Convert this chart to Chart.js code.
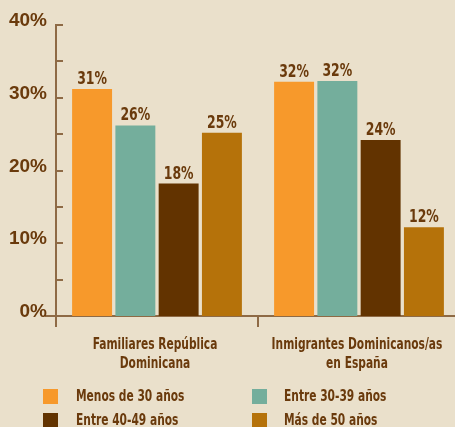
<!DOCTYPE html>
<html><head><meta charset="utf-8">
<script src="https://cdn.jsdelivr.net/npm/chart.js@4/dist/chart.umd.min.js"></script>
<style>
html,body{margin:0;padding:0;background:#EAE0CB;width:455px;height:427px;overflow:hidden;}
#wrap{position:absolute;left:0;top:0;width:460px;height:427px;}
.leg{position:absolute;font:bold 15px 'DejaVu Sans Condensed',sans-serif;color:#6A3A0C;white-space:nowrap;transform:scaleX(0.79);transform-origin:0 0;}
.sw{position:absolute;width:15px;height:15px;}
</style></head><body>
<div id="wrap"><canvas id="c" width="460" height="427"></canvas></div>
<div id="legend"></div>
<script>
const categories = [["Familiares República","Dominicana"],["Inmigrantes Dominicanos/as","en España"]];
const seriesNames = ["Menos de 30 años","Entre 30-39 años","Entre 40-49 años","Más de 50 años"];
const menos30 = [31.2, 32.2];
const entre30_39 = [26.2, 32.3];
const entre40_49 = [18.2, 24.2];
const mas50 = [25.2, 12.2];
const yTicks = [0, 10, 20, 30, 40];
const colors = ["#F7992B","#74AE9C","#623300","#B5720A"];
const textColor = "#6A3A0C";
const axisColor = "#8E6A45";
const narrow = "'DejaVu Sans Condensed',sans-serif";

const values = [menos30, entre30_39, entre40_49, mas50];

// HTML legend
const legend = document.getElementById('legend');
const legPos = [[43,389,76],[252,389,284],[43,413,76],[252,413,284]];
seriesNames.forEach((n,i)=>{
  const [sx,sy,tx]=legPos[i];
  const s=document.createElement('div');s.className='sw';s.style.left=sx+'px';s.style.top=sy+'px';s.style.background=colors[i];legend.appendChild(s);
  const t=document.createElement('div');t.className='leg';t.style.left=tx+'px';t.style.top=(sy-2)+'px';t.textContent=n;legend.appendChild(t);
});

function squeezed(ctx, text, x, y, sx){
  ctx.save(); ctx.translate(x,y); ctx.scale(sx,1); ctx.fillText(text,0,0); ctx.restore();
}

const decor = {
  id:'decor',
  afterDraw(chart){
    const ctx=chart.ctx, a=chart.chartArea, x=chart.scales.x, y=chart.scales.y;
    ctx.save();
    ctx.strokeStyle=axisColor; ctx.lineWidth=2;
    ctx.beginPath();
    ctx.moveTo(a.left, a.bottom); ctx.lineTo(a.left, a.bottom+11);
    ctx.moveTo(45, a.bottom); ctx.lineTo(a.left, a.bottom);
    const mid=(x.getPixelForValue(0)+x.getPixelForValue(1))/2;
    ctx.moveTo(mid, a.bottom); ctx.lineTo(mid, a.bottom+11);
    for(let v=5; v<=40; v+=5){
      const py=Math.round(y.getPixelForValue(v));
      ctx.moveTo(a.left, py); ctx.lineTo(a.left+7, py);
    }
    ctx.stroke();
    ctx.fillStyle=textColor;
    // y labels
    ctx.font="bold 19px 'Liberation Sans',Arial,sans-serif"; ctx.textAlign='right'; ctx.textBaseline='middle';
    yTicks.forEach(v=>{ ctx.fillText(v+'%', a.left-9, y.getPixelForValue(v)-4); });
    // x labels
    ctx.font="bold 15px "+narrow; ctx.textAlign='center'; ctx.textBaseline='alphabetic';
    categories.forEach((lines,i)=>{
      const cx=x.getPixelForValue(i)-2;
      lines.forEach((ln,j)=> squeezed(ctx, ln, cx, a.bottom+33+j*19, 0.79));
    });
    // data labels
    ctx.font="bold 18px "+narrow;
    chart.data.datasets.forEach((ds,di)=>{
      chart.getDatasetMeta(di).data.forEach((bar,i)=>{
        squeezed(ctx, Math.round(ds.data[i])+'%', bar.x, bar.y-5, 0.77);
      });
    });
    ctx.restore();
  }
};

new Chart(document.getElementById('c'),{
  type:'bar',
  data:{labels:categories.map(c=>c.join(' ')), datasets: seriesNames.map((n,i)=>({label:n,data:values[i],backgroundColor:colors[i],categoryPercentage:0.857,barPercentage:0.923}))},
  options:{
    responsive:false, animation:false, devicePixelRatio:1,
    layout:{padding:{top:25,left:0,right:0,bottom:0}},
    plugins:{legend:{display:false},tooltip:{enabled:false}},
    scales:{
      x:{
        grid:{display:false,drawTicks:false},
        border:{display:true,color:axisColor,width:2},
        ticks:{display:false},
        afterFit(s){s.height=111; s.paddingLeft=0; s.paddingRight=0;}
      },
      y:{
        min:0,max:40,
        grid:{display:false,drawTicks:false},
        border:{display:true,color:axisColor,width:2},
        ticks:{stepSize:5,display:false},
        afterFit(s){s.width=56; s.paddingTop=0; s.paddingBottom=0;}
      }
    }
  },
  plugins:[decor]
});
</script>
</body></html>
